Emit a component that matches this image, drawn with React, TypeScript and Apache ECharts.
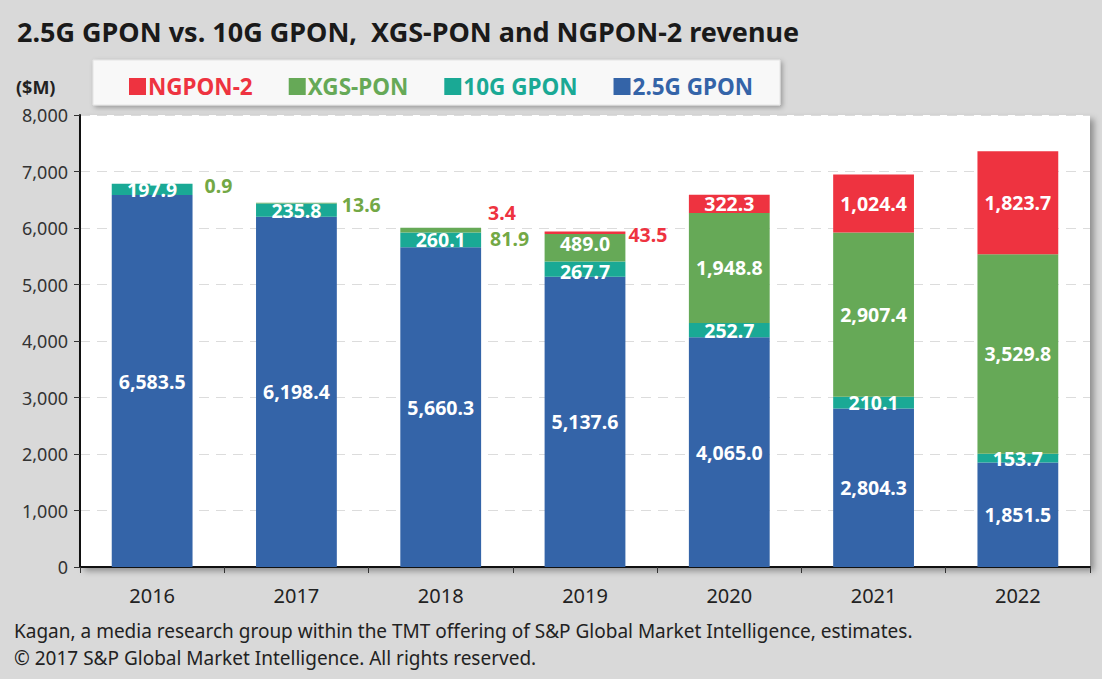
import React, { useEffect, useRef } from "react";
import * as echarts from "echarts";

const years = ["2016", "2017", "2018", "2019", "2020", "2021", "2022"];
const gpon25 = [6583.5, 6198.4, 5660.3, 5137.6, 4065.0, 2804.3, 1851.5];
const gpon10 = [197.9, 235.8, 260.1, 267.7, 252.7, 210.1, 153.7];
const xgsPon = [0.9, 13.6, 81.9, 489.0, 1948.8, 2907.4, 3529.8];
const ngpon2 = [null, null, 3.4, 43.5, 322.3, 1024.4, 1823.7];

const TITLE = "2.5G GPON vs. 10G GPON,  XGS-PON and NGPON-2 revenue";
const FOOT1 = "Kagan, a media research group within the TMT offering of S&P Global Market Intelligence, estimates.";
const FOOT2 = "\u00a9 2017 S&P Global Market Intelligence. All rights reserved.";

const FONT = "'Noto Sans', sans-serif";
const C_BLUE = "#3464a8";
const C_TEAL = "#1aa995";
const C_GREEN = "#66a957";
const C_RED = "#ee3340";
const C_GREEN_TXT = "#73a845";

const fmt = (v: number) =>
  v.toLocaleString("en-US", { minimumFractionDigits: 1, maximumFractionDigits: 1 });

function makeSeries(name: string, values: (number | null)[], color: string, outside: Record<number, any>) {
  return {
    name,
    type: "bar",
    stack: "total",
    barWidth: "56%",
    itemStyle: { color },
    label: {
      show: true,
      position: "inside",
      color: "#fff",
      fontWeight: "bold",
      fontSize: 19.5,
      lineHeight: 19,
      fontFamily: FONT,
      textBorderWidth: 0,
      formatter: (p: any) => (p.value == null ? "" : fmt(p.value)),
    },
    data: values.map((v, i) =>
      outside[i] ? { value: v, label: { show: true, ...outside[i] } } : v
    ),
  };
}

export default function App() {
  const ref = useRef<HTMLDivElement>(null);
  useEffect(() => {
    if (!ref.current) return;
    const chart = echarts.init(ref.current, undefined, { renderer: "svg" });
    chart.setOption({
      animation: false,
      backgroundColor: "#d9d9d9",
      title: {
        text: TITLE,
        left: 12,
        top: 13,
        textStyle: { fontFamily: FONT, fontSize: 27, fontWeight: "bold", color: "#1a1a1a" },
      },
      legend: {
        left: 124,
        top: 70,
        z: 10,
        icon: "rect",
        itemWidth: 17,
        itemHeight: 17,
        itemGap: 36,
        textStyle: { fontFamily: FONT, fontSize: 22.5, fontWeight: "bold", padding: [0, 0, 0, -3] },
        data: [
          { name: "NGPON-2", textStyle: { color: C_RED } },
          { name: "XGS-PON", textStyle: { color: C_GREEN } },
          { name: "10G GPON", textStyle: { color: C_TEAL } },
          { name: "2.5G GPON", textStyle: { color: C_BLUE } },
        ],
      },
      graphic: [
        {
          type: "rect",
          z: 1,
          shape: { x: 93, y: 60, width: 687, height: 45 },
          style: {
            fill: "#f8f8f8",
            stroke: "#e4e4e4",
            shadowBlur: 5,
            shadowOffsetX: 2,
            shadowOffsetY: 2,
            shadowColor: "rgba(0,0,0,0.3)",
          },
        },
        {
          type: "text",
          left: 16,
          top: 78,
          style: { text: "($M)", fontFamily: FONT, fontSize: 18, fontWeight: "bold", fill: "#222" },
        },
        {
          type: "text",
          left: 14,
          top: 621,
          style: { text: FOOT1, fontFamily: FONT, fontSize: 19, fill: "#222" },
        },
        {
          type: "text",
          left: 14,
          top: 648,
          style: { text: FOOT2, fontFamily: FONT, fontSize: 19, fill: "#222" },
        },
      ],
      grid: {
        left: 80,
        right: 12,
        top: 115,
        bottom: 112,
        show: true,
        backgroundColor: "#ffffff",
        borderWidth: 0,
        shadowBlur: 6,
        shadowOffsetX: 4,
        shadowOffsetY: 4,
        shadowColor: "rgba(0,0,0,0.35)",
      },
      xAxis: {
        type: "category",
        data: years,
        axisLine: { lineStyle: { color: "#111", width: 2 } },
        axisTick: { show: true, length: 6, lineStyle: { color: "#333" } },
        axisLabel: { fontFamily: FONT, fontSize: 20, color: "#222", margin: 18 },
      },
      yAxis: {
        type: "value",
        min: 0,
        max: 8000,
        interval: 1000,
        axisLine: { show: true, lineStyle: { color: "#111", width: 2 } },
        axisTick: { show: true, length: 6, lineStyle: { color: "#333" } },
        axisLabel: {
          fontFamily: FONT,
          fontSize: 18,
          color: "#333",
          margin: 12,
          formatter: (v: number) => v.toLocaleString("en-US"),
        },
        splitLine: { lineStyle: { color: "#dcdcdc", type: [10, 7] } },
      },
      series: [
        makeSeries("2.5G GPON", gpon25, C_BLUE, {}),
        makeSeries("10G GPON", gpon10, C_TEAL, { 3: { offset: [0, 2] } }),
        makeSeries("XGS-PON", xgsPon, C_GREEN, {
          0: { position: "right", distance: 12, offset: [0, 2], color: C_GREEN_TXT },
          1: { position: "right", distance: 5, offset: [0, 1], color: C_GREEN_TXT },
          2: { position: "right", distance: 9, offset: [0, 8], color: C_GREEN_TXT },
          3: { offset: [0, -4] },
        }),
        makeSeries("NGPON-2", ngpon2, C_RED, {
          2: { position: "right", distance: 7, offset: [0, -15], color: C_RED },
          3: { position: "right", distance: 3, offset: [0, 2], color: C_RED },
        }),
      ],
    });
    return () => chart.dispose();
  }, []);
  return (
    <div
      ref={ref}
      style={{ position: "fixed", left: 0, top: 0, width: 1102, height: 679 }}
    />
  );
}
